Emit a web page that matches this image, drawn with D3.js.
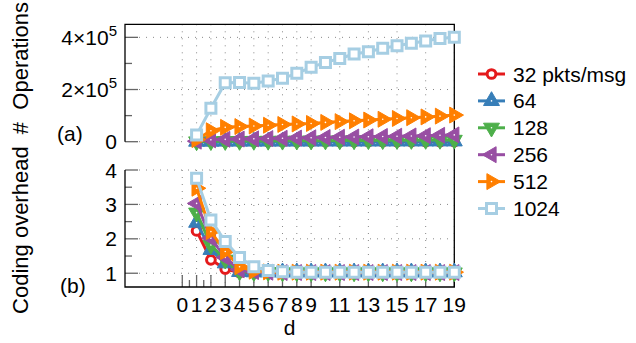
<!DOCTYPE html>
<html>
<head>
<meta charset="utf-8">
<script src="https://cdn.jsdelivr.net/npm/d3@7"></script>
<style>
  body { margin: 0; background: #fff; }
  text { font-family: "Liberation Sans", Arial, Helvetica, sans-serif; fill: #000; }
</style>
</head>
<body>
<div id="chart"></div>
<script>
// data
const dValues = d3.range(1, 20);
const seriesNames = ['32 pkts/msg', '64', '128', '256', '512', '1024'];
const seriesColors = ['#e41a1c', '#377eb8', '#4daf4a', '#984ea3', '#ff7f00', '#a6cee3'];
const seriesMarkers = ['circle', 'up', 'down', 'left', 'right', 'square'];

// (a) # operations
const ops32   = [200, 300, 300, 300, 300, 300, 300, 300, 300, 300, 300, 300, 300, 300, 300, 300, 300, 300, 300];
const ops64   = [400, 600, 700, 800, 800, 900, 900, 1000, 1000, 1100, 1100, 1200, 1200, 1300, 1300, 1400, 1400, 1500, 1500];
const ops128  = [800, 1500, 2000, 2300, 2600, 2900, 3200, 3500, 3800, 4100, 4400, 4700, 5000, 5300, 5600, 5900, 6200, 6500, 6800];
const ops256  = [2000, 7000, 9000, 10000, 11000, 12000, 13000, 14000, 15000, 16000, 17000, 18000, 19000, 20000, 21000, 22000, 23000, 24500, 26000];
const ops512  = [8000, 42000, 55000, 58000, 60000, 63000, 66000, 68000, 70000, 74000, 77000, 80000, 83000, 86000, 89000, 92000, 95000, 98000, 102000];
const ops1024 = [25700, 128000, 226000, 227000, 224000, 233000, 243000, 262000, 285000, 304000, 319000, 336000, 345000, 358000, 368000, 377000, 386000, 396000, 400000];

// (b) coding overhead
const ovh32   = [2.23, 1.39, 1.12, 1.02, 1.02, 1.02, 1.02, 1.02, 1.02, 1.02, 1.02, 1.02, 1.06, 1.02, 1.02, 1.02, 1.02, 1.02, 1.02];
const ovh64   = [2.47, 1.68, 1.29, 1.04, 1.03, 1.03, 1.03, 1.03, 1.03, 1.03, 1.03, 1.03, 1.03, 1.03, 1.03, 1.03, 1.03, 1.03, 1.03];
const ovh128  = [2.76, 1.82, 1.39, 1.05, 1.03, 1.03, 1.02, 1.02, 1.02, 1.02, 1.02, 1.02, 1.02, 1.02, 1.02, 1.02, 1.02, 1.02, 1.02];
const ovh256  = [3.03, 2.02, 1.46, 1.10, 1.05, 1.03, 1.02, 1.02, 1.02, 1.02, 1.02, 1.02, 1.02, 1.02, 1.02, 1.02, 1.02, 1.02, 1.02];
const ovh512  = [3.47, 2.21, 1.63, 1.19, 1.06, 1.04, 1.03, 1.03, 1.03, 1.03, 1.03, 1.03, 1.03, 1.03, 1.03, 1.03, 1.03, 1.03, 1.03];
const ovh1024 = [3.76, 2.55, 1.92, 1.46, 1.19, 1.08, 1.04, 1.03, 1.03, 1.03, 1.03, 1.03, 1.03, 1.03, 1.03, 1.03, 1.03, 1.03, 1.03];

const opsSeries = [ops32, ops64, ops128, ops256, ops512, ops1024];
const ovhSeries = [ovh32, ovh64, ovh128, ovh256, ovh512, ovh1024];

const xMajorTicks = [0, 1, 2, 3, 4, 5, 6, 7, 8, 9, 11, 13, 15, 17, 19];
const xMinorTicks = [0.5, 1.5];
const topMajorTicks = [0, 200000, 400000];
const topMinorTicks = [100000, 300000];
const botMajorTicks = [1, 2, 3, 4];
const botMinorTicks = [1.5, 2.5, 3.5];

const W = 636, H = 343;
const L = 125, R = 454.3;
const svg = d3.select('#chart').append('svg').attr('width', W).attr('height', H);

const x = d3.scaleLinear().domain([-4, 19]).range([L, R]);
const yTop = d3.scaleLinear().domain([0, 450000]).range([141.7, 24.3]);
const yBot = d3.scaleLinear().domain([0.6, 4]).range([287, 170]);

const GRID = '#888', TICK = '#666';

function markerPath(kind) {
  if (kind === 'circle') return d3.symbol(d3.symbolCircle, 60)();
  if (kind === 'square') return d3.symbol(d3.symbolSquare, 100)();
  return d3.symbol(d3.symbolTriangle, 110)();
}
function markerRot(kind) {
  return { up: 0, down: 180, left: -90, right: 90 }[kind] || 0;
}

function drawMarker(g, kind, color, px, py) {
  const open = kind === 'circle' || kind === 'square';
  g.append('path')
    .attr('d', markerPath(kind))
    .attr('transform', `translate(${px},${py}) rotate(${markerRot(kind)})`)
    .attr('fill', open ? '#fff' : color)
    .attr('stroke', color)
    .attr('stroke-width', open ? 3 : 1)
    .attr('stroke-linejoin', 'miter');
  if (!open) {
    g.append('circle').attr('cx', px).attr('cy', py).attr('r', 0.8).attr('fill', '#fff');
  }
}

function drawGrid(y, yTicks, y0, y1) {
  const g = svg.append('g');
  g.selectAll('line.v').data(xMajorTicks).join('line')
    .attr('x1', d => x(d)).attr('x2', d => x(d))
    .attr('y1', y0).attr('y2', y1)
    .attr('stroke', GRID).attr('stroke-width', 1).attr('stroke-dasharray', '1,6');
  g.selectAll('line.h').data(yTicks).join('line')
    .attr('x1', L + 14).attr('x2', R)
    .attr('y1', d => y(d)).attr('y2', d => y(d))
    .attr('stroke', GRID).attr('stroke-width', 1).attr('stroke-dasharray', '1,6');
}

function drawYTicks(y, major, minor) {
  const g = svg.append('g');
  g.selectAll('line.maj').data(major).join('line')
    .attr('x1', L).attr('x2', L + 13)
    .attr('y1', d => y(d)).attr('y2', d => y(d))
    .attr('stroke', TICK).attr('stroke-width', 1.3);
  g.selectAll('line.min').data(minor).join('line')
    .attr('x1', L).attr('x2', L + 7)
    .attr('y1', d => y(d)).attr('y2', d => y(d))
    .attr('stroke', TICK).attr('stroke-width', 1.3);
}

function drawSeries(y, data) {
  const line = d3.line().x((d, i) => x(dValues[i])).y(d => y(d));
  data.forEach((vals, s) => {
    const g = svg.append('g');
    g.append('path').attr('d', line(vals))
      .attr('fill', 'none').attr('stroke', seriesColors[s])
      .attr('stroke-width', 3).attr('stroke-linejoin', 'round');
    vals.forEach((v, i) => drawMarker(g, seriesMarkers[s], seriesColors[s], x(dValues[i]), y(v)));
  });
}

// grids
drawGrid(yTop, topMajorTicks, 24.3, 141.7);
drawGrid(yBot, botMajorTicks, 170, 287);

// ticks
drawYTicks(yTop, topMajorTicks, topMinorTicks);
drawYTicks(yBot, botMajorTicks, botMinorTicks);
svg.append('g').selectAll('line').data(xMajorTicks).join('line')
  .attr('x1', d => x(d)).attr('x2', d => x(d)).attr('y1', 287).attr('y2', 275)
  .attr('stroke', TICK).attr('stroke-width', 1.3);
svg.append('g').selectAll('line').data(xMinorTicks).join('line')
  .attr('x1', d => x(d)).attr('x2', d => x(d)).attr('y1', 287).attr('y2', 280)
  .attr('stroke', TICK).attr('stroke-width', 1.3);

// frame
svg.append('path')
  .attr('d', `M${L},141.7 V24.3 H${R} V287 H${L} V170`)
  .attr('fill', 'none').attr('stroke', '#000').attr('stroke-width', 1.3);

// data
drawSeries(yTop, opsSeries);
drawSeries(yBot, ovhSeries);

// tick labels
const FS = 21;
topMajorTicks.forEach(v => {
  const t = svg.append('text').attr('x', 117).attr('y', yTop(v) + 7.5)
    .attr('text-anchor', 'end').attr('font-size', FS);
  if (v === 0) { t.text('0'); return; }
  t.append('tspan').text(`${v / 100000}\u00d710`);
  t.append('tspan').attr('dy', -9).attr('font-size', 15).text('5');
});
botMajorTicks.forEach(v => {
  svg.append('text').attr('x', 117).attr('y', yBot(v) + 7.5)
    .attr('text-anchor', 'end').attr('font-size', FS).text(v);
});
xMajorTicks.forEach(v => {
  svg.append('text').attr('x', x(v)).attr('y', 312)
    .attr('text-anchor', 'middle').attr('font-size', FS).text(v);
});

// axis titles
svg.append('text').attr('x', (L + R) / 2).attr('y', 335)
  .attr('text-anchor', 'middle').attr('font-size', FS).text('d');
svg.append('text')
  .attr('transform', 'translate(28,158) rotate(-90)')
  .attr('text-anchor', 'middle').attr('font-size', 22)
  .style('white-space', 'pre')
  .text('Coding overhead  #  Operations');
svg.append('text').attr('x', 57).attr('y', 141).attr('font-size', FS).text('(a)');
svg.append('text').attr('x', 60).attr('y', 293).attr('font-size', FS).text('(b)');

// legend
const legend = svg.append('g');
seriesNames.forEach((name, s) => {
  const ly = 74 + s * 26.9;
  legend.append('line').attr('x1', 478).attr('x2', 505).attr('y1', ly).attr('y2', ly)
    .attr('stroke', seriesColors[s]).attr('stroke-width', 3);
  drawMarker(legend, seriesMarkers[s], seriesColors[s], 491.5, ly);
  legend.append('text').attr('x', 513).attr('y', ly + 7.5)
    .attr('font-size', FS).text(name);
});
</script>
</body>
</html>
